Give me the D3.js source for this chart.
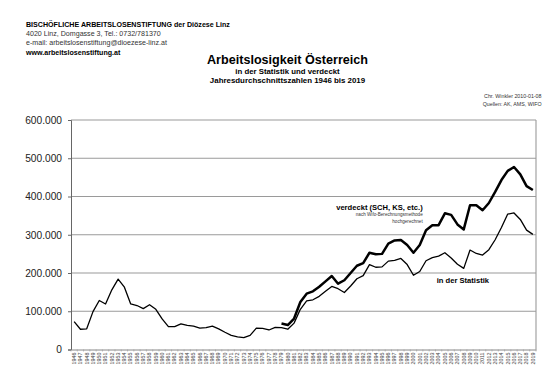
<!DOCTYPE html>
<html><head><meta charset="utf-8">
<script src="https://cdn.jsdelivr.net/npm/d3@7"></script>
<style>
html,body{margin:0;padding:0;background:#fff;}
svg{display:block;font-family:"Liberation Sans",Arial,sans-serif;}
</style></head>
<body>
<svg id="c" width="560" height="382"></svg>
<script>
const years = [1946,1947,1948,1949,1950,1951,1952,1953,1954,1955,1956,1957,1958,1959,1960,1961,1962,1963,1964,1965,1966,1967,1968,1969,1970,1971,1972,1973,1974,1975,1976,1977,1978,1979,1980,1981,1982,1983,1984,1985,1986,1987,1988,1989,1990,1991,1992,1993,1994,1995,1996,1997,1998,1999,2000,2001,2002,2003,2004,2005,2006,2007,2008,2009,2010,2011,2012,2013,2014,2015,2016,2017,2018,2019];
// in der Statistik (thousands)
const statistik = [73,53,54,99,128,119,156,184,163,119,115,107,117,105,80,60,60,67,63,61,56,57,61,54,45,37,33,31,37,56,55,51,58,57,53,69,105,127,130,139,152,165,159,149,166,185,193,222,215,216,231,233,238,222,194,204,232,240,244,253,239,223,212,260,251,247,261,287,319,354,357,340,312,301];
// verdeckt (from 1979)
const verdecktYears = [1979,1980,1981,1982,1983,1984,1985,1986,1987,1988,1989,1990,1991,1992,1993,1994,1995,1996,1997,1998,1999,2000,2001,2002,2003,2004,2005,2006,2007,2008,2009,2010,2011,2012,2013,2014,2015,2016,2017,2018,2019];
const verdeckt = [68,64,81,124,146,152,164,178,192,172,181,200,219,226,253,249,250,277,285,286,273,253,273,312,325,325,356,352,327,314,377,377,364,383,412,443,467,477,458,427,417];
const yTicks = [0,100000,200000,300000,400000,500000,600000];

const svg = d3.select("#c");
const L = 71, R = 536, T = 120, B = 349.5;
const x = d3.scaleBand().domain(years).range([L, R]);
const cx = d => x(d) + x.bandwidth()/2;
const y = d3.scaleLinear().domain([0, 600000]).range([B, T]);
const loc = d3.formatLocale({decimal:",", thousands:".", grouping:[3], currency:["","€"]});
const fmt = loc.format(",");

// header
const hdr = svg.append("g").attr("fill","#000").style("font-size","7.1px");
hdr.append("text").attr("x",26).attr("y",27.3).style("font-weight","bold").text("BISCHÖFLICHE ARBEITSLOSENSTIFTUNG der Diözese Linz");
hdr.append("text").attr("x",26).attr("y",36).attr("fill","#333").text("4020 Linz, Domgasse 3, Tel.: 0732/781370");
hdr.append("text").attr("x",26).attr("y",45.3).attr("fill","#333").text("e-mail: arbeitslosenstiftung@dioezese-linz.at");
hdr.append("text").attr("x",26).attr("y",54.7).style("font-weight","bold").text("www.arbeitslosenstiftung.at");

// titles
svg.append("text").attr("x",287.5).attr("y",64).attr("text-anchor","middle").style("font-size","12.6px").style("font-weight","bold").text("Arbeitslosigkeit Österreich");
svg.append("text").attr("x",287.5).attr("y",74.3).attr("text-anchor","middle").style("font-size","7.8px").style("font-weight","bold").text("in der Statistik und verdeckt");
svg.append("text").attr("x",287.5).attr("y",82.7).attr("text-anchor","middle").style("font-size","7.9px").style("font-weight","bold").text("Jahresdurchschnittszahlen 1946 bis 2019");
svg.append("text").attr("x",541.5).attr("y",98.3).attr("text-anchor","end").style("font-size","5.3px").attr("fill","#333").text("Chr. Winkler 2010-01-08");
svg.append("text").attr("x",541.5).attr("y",105.7).attr("text-anchor","end").style("font-size","5.3px").attr("fill","#333").text("Quellen: AK, AMS, WIFO");

// gridlines
svg.append("g").selectAll("line").data(yTicks.filter(d=>d>0)).join("line")
  .attr("x1",L).attr("x2",R).attr("y1",d=>y(d)).attr("y2",d=>y(d))
  .attr("stroke","#9a9a9a").attr("stroke-width",1.1);
// right border
svg.append("line").attr("x1",R).attr("x2",R).attr("y1",T).attr("y2",B).attr("stroke","#9a9a9a").attr("stroke-width",1.1);

// y axis
const ya = svg.append("g").attr("transform",`translate(${L},0)`)
  .call(d3.axisLeft(y).tickValues(yTicks).tickSize(3).tickPadding(6).tickFormat(d=>fmt(d)));
ya.select(".domain").attr("stroke","#666");
ya.selectAll(".tick line").attr("stroke","#666");
ya.selectAll("text").style("font-size","10.2px").attr("fill","#222").style("font-family","Liberation Sans, Arial, sans-serif");

// x axis
const xa = svg.append("g").attr("transform",`translate(0,${B})`)
  .call(d3.axisBottom(x).tickSize(0).tickPadding(3));
xa.select(".domain").attr("stroke","#888");
xa.selectAll("text").attr("transform","rotate(-90)").attr("text-anchor","end")
  .attr("x",-3).attr("y",0).attr("dy","0.33em").attr("dx",0)
  .style("font-size","5.4px").attr("fill","#444").style("font-family","Liberation Sans, Arial, sans-serif");
xa.selectAll(".tick").attr("transform",d=>`translate(${cx(d)},0)`);
svg.append("g").selectAll("line").data(years.concat([2020])).join("line")
  .attr("x1",(d,i)=>L+i*x.bandwidth()).attr("x2",(d,i)=>L+i*x.bandwidth())
  .attr("y1",B).attr("y2",B+2).attr("stroke","#999").attr("stroke-width",0.6);

// lines
const line = d3.line().x(d=>cx(d[0])).y(d=>y(d[1]*1000));
svg.append("path").datum(years.map((yr,i)=>[yr,statistik[i]]))
  .attr("d",line).attr("fill","none").attr("stroke","#000").attr("stroke-width",1.3).attr("stroke-linejoin","round");
svg.append("path").datum(verdecktYears.map((yr,i)=>[yr,verdeckt[i]]))
  .attr("d",line).attr("fill","none").attr("stroke","#000").attr("stroke-width",2.5).attr("stroke-linejoin","round");

// labels
svg.append("text").attr("x",422.7).attr("y",210).attr("text-anchor","end").style("font-size","7.6px").style("font-weight","bold").text("verdeckt (SCH, KS, etc.)");
svg.append("text").attr("x",422.7).attr("y",216.2).attr("text-anchor","end").style("font-size","4.6px").attr("fill","#333").text("nach Wifo-Berechnungsmethode");
svg.append("text").attr("x",422.7).attr("y",222.7).attr("text-anchor","end").style("font-size","4.6px").attr("fill","#333").text("hochgerechnet");
svg.append("text").attr("x",436.7).attr("y",283.3).style("font-size","7.6px").style("font-weight","bold").text("in der Statistik");
</script>
</body></html>
